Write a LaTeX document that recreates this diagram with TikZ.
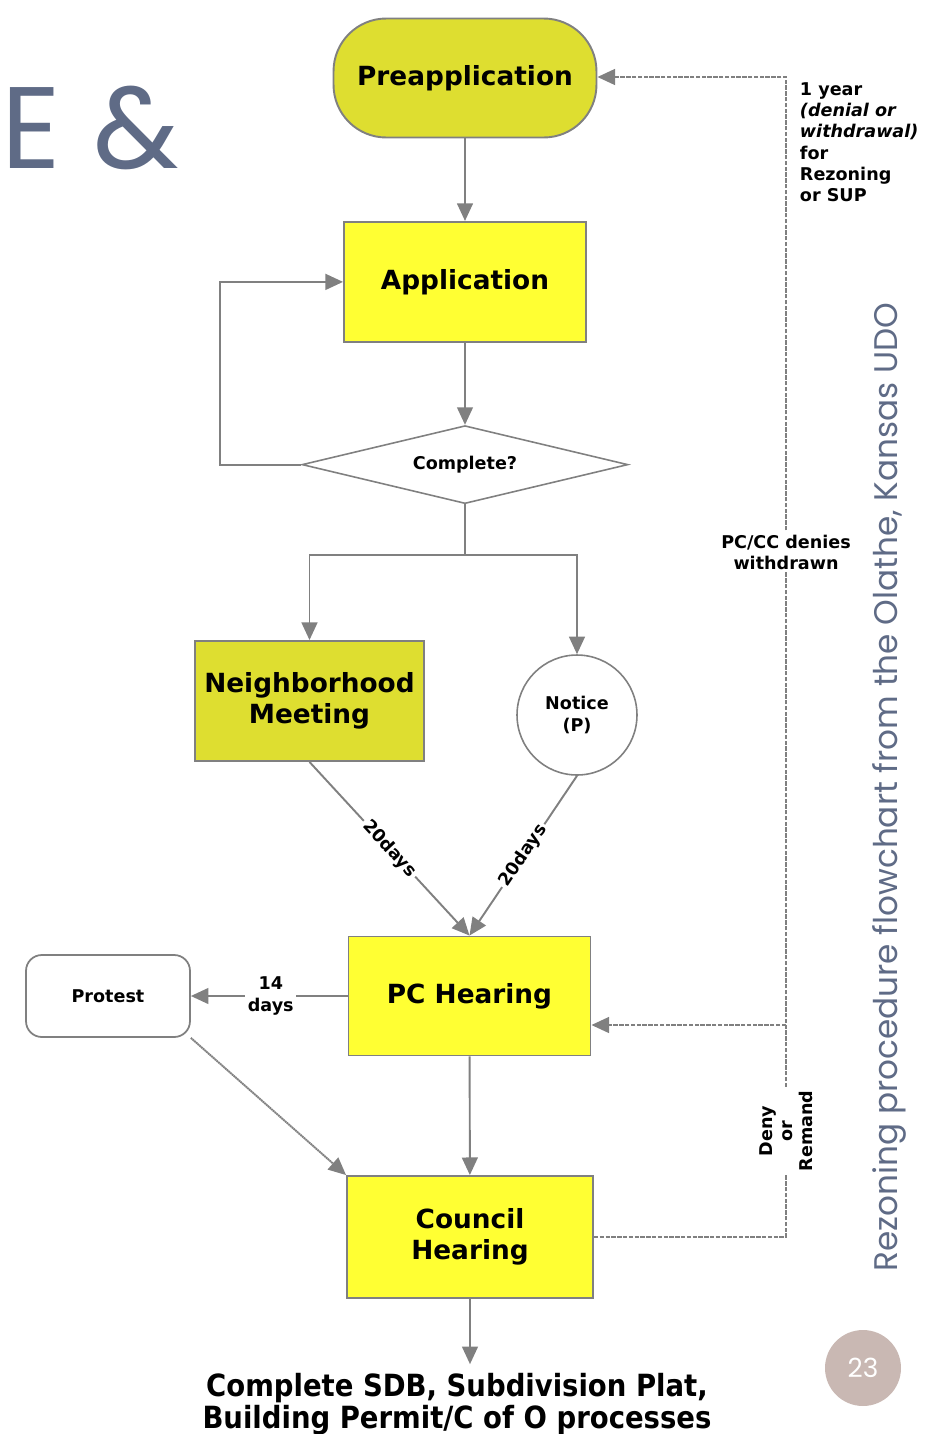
\documentclass[tikz,border=0pt]{standalone}
\usepackage{fontspec}
\setmainfont{DejaVu Sans}
\newfontfamily\slidefont{Poppins}
\newfontfamily\closefont{DejaVu Sans Condensed}
\usepackage{tikz}
\usetikzlibrary{positioning, arrows.meta, shapes.geometric}

\definecolor{meetolive}{HTML}{DEDE30}
\definecolor{appyellow}{HTML}{FFFF33}
\definecolor{linegray}{HTML}{808080}
\definecolor{slideblue}{HTML}{5F6B86}
\definecolor{badgepink}{HTML}{C9B8B3}

\begin{document}
\begin{tikzpicture}[x=0.02cm, y=-0.02cm, node distance=1cm,
    flow/.style={draw=linegray, line width=1.1pt, -{Triangle[length=10pt, width=9pt]}},
    back/.style={flow, dash pattern=on 2.5pt off 0.8pt},
    box/.style={rectangle, draw=linegray, line width=1.1pt, fill=appyellow, minimum width=4.84cm, minimum height=2.4cm, align=center, font=\fontsize{15}{18}\selectfont\bfseries},
    note/.style={font=\fontsize{10}{12}\selectfont\bfseries, align=center, inner sep=1.5pt}]
    \useasboundingbox (0,0) rectangle (925,1434);

    % slide decoration
    \node[slideblue, font=\slidefont\fontsize{66}{66}\selectfont, anchor=base west, inner sep=0pt] (amp) at (1,168) {E\hspace{0.28em}\&};
    \node[slideblue, rotate=90, font=\slidefont\fontsize{18.6}{18.6}\selectfont] (title) at (889,787) {Rezoning procedure flowchart from the Olathe, Kansas UDO};
    \node[circle, fill=badgepink, minimum size=1.52cm, text=white, font=\slidefont\fontsize{15}{15}\selectfont] (page) at (863,1368) {23};

    % flowchart
    \node[box, fill=meetolive, rounded corners=30pt, minimum width=5.26cm, minimum height=2.38cm] (pre) at (465,78) {Preapplication};
    \node[box, below=1.65cm of pre] (app) {Application};
    \node[diamond, draw=linegray, line width=0.9pt, aspect=4.2, minimum width=6.52cm, minimum height=1.56cm, inner sep=0pt, note, below=1.64cm of app] (chk) {Complete?};
    \node[box, fill=meetolive, minimum width=4.58cm] (meet) at (309.5,701) {Neighborhood\\Meeting};
    \node[circle, draw=linegray, line width=0.9pt, minimum size=2.4cm, note, font=\fontsize{10}{12.5}\selectfont\bfseries] (notice) at (577,715) {Notice\\(P)};
    \node[box, minimum height=2.38cm] (pc) at (469.5,996) {PC Hearing};
    \node[rectangle, rounded corners=9pt, draw=linegray, line width=1pt, minimum width=3.28cm, minimum height=1.64cm, note] (protest) at (108,996) {Protest};
    \node[box, minimum width=4.92cm, minimum height=2.44cm, font=\fontsize{15}{17.5}\selectfont\bfseries] (cc) at (470,1237) {Council\\Hearing};
    \node[font=\closefont\fontsize{17.4}{18}\selectfont\bfseries, align=center, inner sep=1pt] (done) at (457,1404) {Complete SDB, Subdivision Plat,\\Building Permit/C of O processes};

    \draw[flow] (pre) -- (app);
    \draw[flow] (app) -- (chk);
    \draw[flow] (chk.west) -- ++(-81,0) |- (app.west);
    \draw[draw=linegray, line width=1.1pt] (chk.south) -- ++(0,51) coordinate (split);
    \draw[flow] (split) -| (meet.north);
    \draw[flow] (split) -| (notice.north);
    \draw[flow] (meet.south) -- node[sloped, fill=white, note]{20days} (pc.north);
    \draw[flow] (notice.south) -- node[sloped, fill=white, note]{20days} (pc.north);
    \draw[flow] (pc) -- node[fill=white, note, pos=0.49]{14\\days} (protest);
    \draw[flow, dash pattern=on 1pt off 0.3pt] (protest.south east) -- (cc.north west);
    \draw[flow] (pc) -- (cc);
    \draw[flow] (cc.south) -- ([yshift=4pt]cc.south |- done.north);

    % return paths
    \coordinate (railtop) at (786,77);
    \coordinate (railmid) at (786,1025);
    \draw[back] (cc.east) -| (railtop) -- (pre.east |- railtop);
    \draw[back] (railmid) -- (railmid -| pc.east);
    \node[note, fill=white] (denies) at (786,552) {PC/CC denies\\withdrawn};
    \node[note, fill=white, rotate=90, font=\fontsize{10}{11.5}\selectfont\bfseries] (remand) at (786,1131) {Deny\\or\\Remand};
    \node[note, align=left, anchor=north west] (year) at (797,80) {1 year\\\textit{(denial or}\\\textit{withdrawal)}\\for\\Rezoning\\or SUP};
\end{tikzpicture}
\end{document}
